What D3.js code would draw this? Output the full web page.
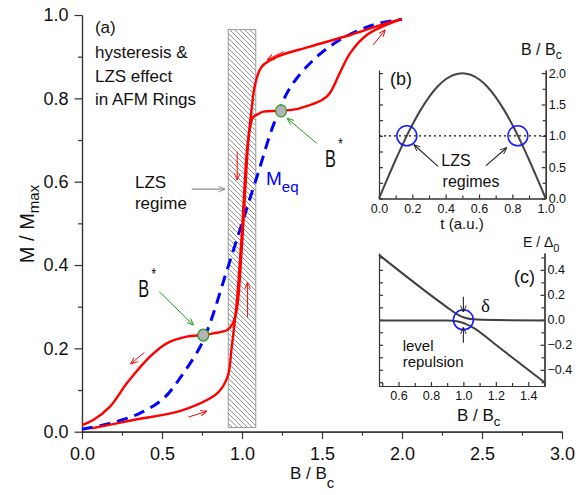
<!DOCTYPE html>
<html>
<head>
<meta charset="utf-8">
<script src="https://cdn.jsdelivr.net/npm/d3@7"></script>
<style>
  body { margin: 0; background: #fff; }
  svg { font-family: "Liberation Sans", Arial, sans-serif; }
</style>
</head>
<body>
<div id="chart"></div>
<script>
// ---- panel (a) data ----
const xTicksA = [0, 0.5, 1.0, 1.5, 2.0, 2.5, 3.0];
const xMinorA = [0.25, 0.75, 1.25, 1.75, 2.25, 2.75];
const yTicksA = [0, 0.2, 0.4, 0.6, 0.8, 1.0];
const yMinorA = [0.1, 0.3, 0.5, 0.7, 0.9];

// sweep up (lower branch)
const upB = [0.06, 0.32, 0.63, 0.85, 0.91, 0.935, 0.967, 0.998, 1.03, 1.05, 1.07, 1.1, 1.133, 1.244, 1.36, 1.53, 1.61, 1.675, 1.78, 1.925, 2.0];
const upM = [0.008, 0.028, 0.052, 0.094, 0.132, 0.2, 0.31, 0.47, 0.67, 0.73, 0.755, 0.762, 0.768, 0.77, 0.776, 0.804, 0.86, 0.908, 0.952, 0.98, 0.99];
// sweep down (upper branch)
const downB = [2.0, 1.9, 1.675, 1.425, 1.22, 1.123, 1.08, 1.062, 1.04, 0.998, 0.967, 0.94, 0.908, 0.82, 0.758, 0.654, 0.53, 0.425, 0.28, 0.175, 0.07, 0.0];
const downM = [0.99, 0.98, 0.952, 0.924, 0.9, 0.876, 0.83, 0.78, 0.70, 0.436, 0.292, 0.258, 0.244, 0.236, 0.232, 0.228, 0.212, 0.18, 0.116, 0.06, 0.028, 0.016];
// equilibrium magnetisation
const eqB = [0, 0.175, 0.36, 0.51, 0.633, 0.74, 0.8, 0.9, 1.0, 1.1, 1.2, 1.3, 1.446, 1.61, 1.82, 2.0];
const eqM = [0.006, 0.02, 0.044, 0.08, 0.14, 0.205, 0.26, 0.38, 0.5, 0.62, 0.74, 0.825, 0.892, 0.94, 0.976, 0.99];

const hatchB = [0.914, 1.086];
const hatchM = [0.01, 0.965];
const bStarB = [0.758, 1.244];
const bStarM = [0.232, 0.77];

// ---- panel (b) data ----
const tVals = [0, 0.05, 0.1, 0.15, 0.2, 0.25, 0.3, 0.35, 0.4, 0.45, 0.5, 0.55, 0.6, 0.65, 0.7, 0.75, 0.8, 0.85, 0.9, 0.95, 1.0];
const bVals = [0, 0.313, 0.618, 0.908, 1.176, 1.414, 1.618, 1.782, 1.902, 1.975, 2.0, 1.975, 1.902, 1.782, 1.618, 1.414, 1.176, 0.908, 0.618, 0.313, 0];
const lzsT = [0.167, 0.833];
const xTicksB = [0, 0.2, 0.4, 0.6, 0.8, 1.0];
const yTicksB = [0, 0.5, 1.0, 1.5, 2.0];

// ---- panel (c) data ----
const levelB = [0.48, 0.9, 0.96, 0.99, 1.02, 1.06, 1.2, 1.5];
const upperE = [0.52, 0.1, 0.045, 0.025, 0.012, 0.004, -0.002, -0.005];
const lowerE = [-0.005, -0.006, -0.012, -0.022, -0.036, -0.062, -0.2, -0.5];
const xTicksC = [0.6, 0.8, 1.0, 1.2, 1.4];
const yTicksC = [-0.4, -0.2, 0.0, 0.2, 0.4];

const svg = d3.select("#chart").append("svg")
  .attr("width", 583).attr("height", 495);

const defs = svg.append("defs");
const pat = defs.append("pattern").attr("id", "hatch")
  .attr("patternUnits", "userSpaceOnUse").attr("width", 5).attr("height", 5);
pat.append("path").attr("d", "M0,0L5,5M-1,4L1,6M4,-1L6,1")
  .attr("stroke", "#8a8a8a").attr("stroke-width", 0.9);

function marker(id, color) {
  defs.append("marker").attr("id", id)
    .attr("viewBox", "0 0 10 10").attr("refX", 9.5).attr("refY", 5)
    .attr("markerWidth", 7).attr("markerHeight", 7)
    .attr("markerUnits", "userSpaceOnUse").attr("orient", "auto")
    .append("path").attr("d", "M0,1L10,5L0,9")
    .attr("fill", "none").attr("stroke", color).attr("stroke-width", 1.3);
}
marker("arRed", "#ff0000");
marker("arGreen", "#1f9a1f");
marker("arGray", "#8a8a8a");
marker("arBlack", "#222");

const axisColor = "#333";
function styleAxis(g, fs) {
  g.select(".domain").attr("stroke", axisColor).attr("stroke-width", 1.2);
  g.selectAll(".tick line").attr("stroke", axisColor).attr("stroke-width", 1.2);
  g.selectAll("text").attr("fill", "#111").style("font-size", fs + "px")
    .style("font-family", '"Liberation Sans", Arial, sans-serif');
}

// ================= panel (a) =================
const x = d3.scaleLinear().domain([0, 3]).range([82, 562]);
const y = d3.scaleLinear().domain([0, 1]).range([431.7, 15]);
const fmt = d3.format(".1f");

// hatched LZS region
svg.append("rect")
  .attr("x", x(hatchB[0])).attr("y", y(hatchM[1]))
  .attr("width", x(hatchB[1]) - x(hatchB[0]))
  .attr("height", y(hatchM[0]) - y(hatchM[1]))
  .attr("fill", "url(#hatch)").attr("stroke", "#9a9a9a").attr("stroke-width", 1);

const gx = svg.append("g").attr("transform", `translate(0,${y(0)})`)
  .call(d3.axisBottom(x).tickValues(xTicksA).tickFormat(fmt).tickSize(7.5).tickPadding(8.5).tickSizeOuter(0));
styleAxis(gx, 18);
const gxm = svg.append("g").attr("transform", `translate(0,${y(0)})`)
  .call(d3.axisBottom(x).tickValues(xMinorA).tickFormat("").tickSize(4).tickSizeOuter(0));
styleAxis(gxm, 18);

const gy = svg.append("g").attr("transform", `translate(${x(0)},0)`)
  .call(d3.axisLeft(y).tickValues(yTicksA).tickFormat(fmt).tickSize(7.5).tickPadding(6).tickSizeOuter(0));
styleAxis(gy, 18);
const gym = svg.append("g").attr("transform", `translate(${x(0)},0)`)
  .call(d3.axisLeft(y).tickValues(yMinorA).tickFormat("").tickSize(4).tickSizeOuter(0));
styleAxis(gym, 18);

const lineA = d3.line().x(d => x(d[0])).y(d => y(d[1])).curve(d3.curveCatmullRom.alpha(0.5));

svg.append("path").datum(eqB.map((b, i) => [b, eqM[i]]))
  .attr("d", lineA).attr("fill", "none").attr("stroke", "#0000ff")
  .attr("stroke-width", 3).attr("stroke-dasharray", "11,7");

svg.append("path").datum(upB.map((b, i) => [b, upM[i]]))
  .attr("d", lineA).attr("fill", "none").attr("stroke", "#ff0000").attr("stroke-width", 2.4);
svg.append("path").datum(downB.map((b, i) => [b, downM[i]]))
  .attr("d", lineA).attr("fill", "none").attr("stroke", "#ff0000").attr("stroke-width", 2.4);

// sweep direction arrows [x1,y1,x2,y2] in data units
const sweepArrows = [
  [1.26, 0.912, 1.16, 0.893],
  [1.82, 0.928, 1.894, 0.964],
  [0.97, 0.672, 0.97, 0.604],
  [1.035, 0.274, 1.035, 0.358],
  [0.39, 0.19, 0.305, 0.163],
  [0.665, 0.035, 0.78, 0.049]
];
svg.selectAll(".sweep").data(sweepArrows).enter().append("line")
  .attr("x1", d => x(d[0])).attr("y1", d => y(d[1]))
  .attr("x2", d => x(d[2])).attr("y2", d => y(d[3]))
  .attr("stroke", "#ff0000").attr("stroke-width", 1)
  .attr("marker-end", "url(#arRed)");

// B* arrows and markers
const starArrows = [
  [0.483, 0.336, 0.696, 0.256],
  [1.467, 0.692, 1.283, 0.752]
];
svg.selectAll(".star").data(starArrows).enter().append("line")
  .attr("x1", d => x(d[0])).attr("y1", d => y(d[1]))
  .attr("x2", d => x(d[2])).attr("y2", d => y(d[3]))
  .attr("stroke", "#1f9a1f").attr("stroke-width", 1)
  .attr("marker-end", "url(#arGreen)");

svg.selectAll(".bstar").data(bStarB).enter().append("ellipse")
  .attr("cx", d => x(d)).attr("cy", (d, i) => y(bStarM[i]))
  .attr("rx", 5.5).attr("ry", 6)
  .attr("fill", "#b4b4b4").attr("stroke", "#1f9a1f").attr("stroke-width", 1.2);

// gray arrow to LZS regime
svg.append("line")
  .attr("x1", x(0.686)).attr("y1", y(0.582)).attr("x2", x(0.894)).attr("y2", y(0.582))
  .attr("stroke", "#8a8a8a").attr("stroke-width", 1.2).attr("marker-end", "url(#arGray)");

function txt(px, py, s, fs, color, anchor) {
  return svg.append("text").attr("x", px).attr("y", py).text(s)
    .style("font-size", fs + "px").attr("fill", color || "#111")
    .attr("text-anchor", anchor || "start");
}

txt(x(0.081), y(0.957), "(a)", 17);
txt(x(0.081), y(0.897), "hysteresis &", 17);
txt(x(0.081), y(0.839), "LZS effect", 17);
txt(x(0.081), y(0.784), "in AFM Rings", 17);
txt(x(0.331), y(0.585), "LZS", 17);
txt(x(0.331), y(0.534), "regime", 17);

const meq = txt(x(1.15), y(0.592), "M", 19, "#0000ff");
meq.append("tspan").attr("dy", 7).style("font-size", "15px").text("eq");

// B* labels: narrow B with raised asterisk, one text each
[[0.352, 0.3225], [1.519, 0.636]].forEach(p => {
  const t = svg.append("text")
    .attr("transform", `translate(${x(p[0])},${y(p[1])}) scale(0.68,1)`)
    .attr("fill", "#111");
  t.append("tspan").style("font-size", "24px").text("B");
  t.append("tspan").attr("dx", 3.5).attr("dy", -17).style("font-size", "17px").text("*");
});

// axis titles
const yt = svg.append("text").attr("transform", "translate(34,224) rotate(-90)")
  .attr("text-anchor", "middle").style("font-size", "20px").attr("fill", "#111");
yt.append("tspan").text("M / M");
yt.append("tspan").attr("dy", 5).style("font-size", "15px").text("max");

const xt = txt(290, 479, "B / B", 17);
xt.append("tspan").attr("dy", 9).style("font-size", "15px").text("c");

// ================= panel (b) =================
const xb = d3.scaleLinear().domain([0, 1]).range([379, 545.7]);
const yb = d3.scaleLinear().domain([0, 2.05]).range([198.5, 70]);

const gbx = svg.append("g").attr("transform", `translate(0,${yb(0)})`)
  .call(d3.axisBottom(xb).tickValues(xTicksB).tickFormat(fmt).tickSize(-4).tickPadding(6).tickSizeOuter(0));
styleAxis(gbx, 12.5);
svg.append("g").attr("transform", `translate(0,${yb(0)})`)
  .call(d3.axisBottom(xb).tickValues([0.1, 0.3, 0.5, 0.7, 0.9]).tickFormat("").tickSize(-3).tickSizeOuter(0))
  .call(g => styleAxis(g, 12));
const gbl = svg.append("g").attr("transform", `translate(${xb(0)},0)`)
  .call(d3.axisLeft(yb).tickValues([0, 0.25, 0.5, 0.75, 1, 1.25, 1.5, 1.75, 2]).tickFormat("").tickSize(-4).tickSizeOuter(0));
styleAxis(gbl, 12);
const gbr = svg.append("g").attr("transform", `translate(${xb(1)},0)`)
  .call(d3.axisRight(yb).tickValues(yTicksB).tickFormat(fmt).tickSize(-4).tickPadding(3).tickSizeOuter(0));
styleAxis(gbr, 12.5);
svg.append("g").attr("transform", `translate(${xb(1)},0)`)
  .call(d3.axisRight(yb).tickValues([0.25, 0.75, 1.25, 1.75]).tickFormat("").tickSize(-3).tickSizeOuter(0))
  .call(g => styleAxis(g, 12));

svg.append("line")
  .attr("x1", xb(0)).attr("x2", xb(1)).attr("y1", yb(1)).attr("y2", yb(1))
  .attr("stroke", "#111").attr("stroke-width", 1.2).attr("stroke-dasharray", "2,3");

const lineB = d3.line().x(d => xb(d[0])).y(d => yb(d[1])).curve(d3.curveCatmullRom);
svg.append("path").datum(tVals.map((t, i) => [t, bVals[i]]))
  .attr("d", lineB).attr("fill", "none").attr("stroke", "#444").attr("stroke-width", 2);

svg.selectAll(".lzs").data(lzsT).enter().append("circle")
  .attr("cx", d => xb(d)).attr("cy", yb(1)).attr("r", 10)
  .attr("fill", "none").attr("stroke", "#1a1aff").attr("stroke-width", 1.5);

const lzsArrows = [[0.354, 0.513, 0.21, 0.857], [0.642, 0.524, 0.766, 0.81]];
svg.selectAll(".lzsar").data(lzsArrows).enter().append("line")
  .attr("x1", d => xb(d[0])).attr("y1", d => yb(d[1]))
  .attr("x2", d => xb(d[2])).attr("y2", d => yb(d[3]))
  .attr("stroke", "#222").attr("stroke-width", 1.1).attr("marker-end", "url(#arBlack)");

txt(390, 85, "(b)", 18);
txt(456, 166, "LZS", 16, "#111", "middle");
txt(471, 187, "regimes", 16, "#111", "middle");
txt(462, 229, "t (a.u.)", 15, "#111", "middle");
const bl = txt(521, 55, "B / B", 16);
bl.append("tspan").attr("dy", 4).style("font-size", "12px").text("c");

// ================= panel (c) =================
const xc = d3.scaleLinear().domain([0.48, 1.5]).range([379, 544.5]);
const yc = d3.scaleLinear().domain([-0.53, 0.535]).range([386, 253]);

const gcx = svg.append("g").attr("transform", `translate(0,${yc(-0.53)})`)
  .call(d3.axisBottom(xc).tickValues(xTicksC).tickFormat(fmt).tickSize(-4).tickPadding(5).tickSizeOuter(0));
styleAxis(gcx, 12.5);
svg.append("g").attr("transform", `translate(0,${yc(-0.53)})`)
  .call(d3.axisBottom(xc).tickValues([0.5, 0.7, 0.9, 1.1, 1.3, 1.5]).tickFormat("").tickSize(-3).tickSizeOuter(0))
  .call(g => styleAxis(g, 12));
svg.append("g").attr("transform", `translate(${xc(0.48)},0)`)
  .call(d3.axisLeft(yc).tickValues([-0.5, -0.4, -0.3, -0.2, -0.1, 0, 0.1, 0.2, 0.3, 0.4, 0.5]).tickFormat("").tickSize(-4).tickSizeOuter(0))
  .call(g => styleAxis(g, 12));
const gcr = svg.append("g").attr("transform", `translate(${xc(1.5)},0)`)
  .call(d3.axisRight(yc).tickValues(yTicksC).tickFormat(fmt).tickSize(-4).tickPadding(3).tickSizeOuter(0));
styleAxis(gcr, 12.5);
svg.append("g").attr("transform", `translate(${xc(1.5)},0)`)
  .call(d3.axisRight(yc).tickValues([-0.5, -0.3, -0.1, 0.1, 0.3, 0.5]).tickFormat("").tickSize(-3).tickSizeOuter(0))
  .call(g => styleAxis(g, 12));

const lineC = d3.line().x(d => xc(d[0])).y(d => yc(d[1])).curve(d3.curveMonotoneX);
[upperE, lowerE].forEach(e => {
  svg.append("path").datum(levelB.map((b, i) => [b, e[i]]))
    .attr("d", lineC).attr("fill", "none").attr("stroke", "#404040").attr("stroke-width", 2);
});

svg.append("circle").attr("cx", xc(1.0)).attr("cy", yc(0)).attr("r", 10)
  .attr("fill", "none").attr("stroke", "#1a1aff").attr("stroke-width", 1.5);

const deltaArrows = [[1.0, 0.184, 1.0, 0.062], [1.0, -0.184, 1.0, -0.062]];
svg.selectAll(".dar").data(deltaArrows).enter().append("line")
  .attr("x1", d => xc(d[0])).attr("y1", d => yc(d[1]))
  .attr("x2", d => xc(d[2])).attr("y2", d => yc(d[3]))
  .attr("stroke", "#222").attr("stroke-width", 1.1).attr("marker-end", "url(#arBlack)");

svg.append("text").attr("x", 481).attr("y", 312).text("δ")
  .style("font-size", "19px").style("font-family", '"Liberation Serif", "DejaVu Serif", serif').attr("fill", "#111");
txt(514, 283, "(c)", 18);
txt(402.7, 351, "level", 15);
txt(402.7, 367, "repulsion", 15);
const el = txt(523, 247, "E / Δ", 14);
el.append("tspan").attr("dy", 5).style("font-size", "11px").text("0");
const cl = txt(457, 421, "B / B", 17);
cl.append("tspan").attr("dy", 5).style("font-size", "13px").text("c");
</script>
</body>
</html>
